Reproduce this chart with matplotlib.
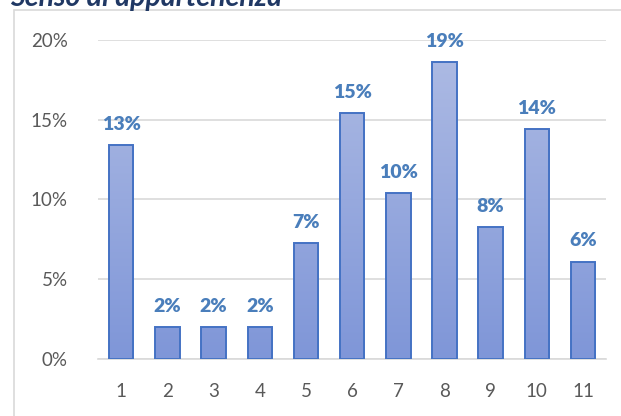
import numpy as np
import matplotlib.pyplot as plt
from matplotlib.patches import Rectangle

categories = ['1', '2', '3', '4', '5', '6', '7', '8', '9', '10', '11']
values = [0.134, 0.020, 0.020, 0.020, 0.0725, 0.154, 0.104, 0.186, 0.0825, 0.144, 0.061]
labels = ['13%', '2%', '2%', '2%', '7%', '15%', '10%', '19%', '8%', '14%', '6%']
yticks = [0, 0.05, 0.10, 0.15, 0.20]
ytick_labels = ['0%', '5%', '10%', '15%', '20%']

plt.rcParams['font.family'] = ['Lato', 'DejaVu Sans']

fig = plt.figure(figsize=(6.21, 4.16), dpi=100)
ax = fig.add_axes([0.158, 0.137, 0.818, 0.767])

# chart frame (cropped at right and bottom)
fig.patches.append(Rectangle((14 / 621, -0.1), 1.2, 1 - 10 / 416 + 0.1,
                             transform=fig.transFigure, fill=False,
                             edgecolor='#D9D9D9', linewidth=1.2))

# title, mostly cut off at the top
fig.text(10 / 621, 1 - 6 / 416, 'Senso di appartenenza', fontsize=20.5,
         fontweight='bold', fontstyle='italic', color='#203864',
         ha='left', va='baseline')

x = np.arange(len(categories))
bars = ax.bar(x, values, width=0.53, color='none', edgecolor='#4472C4',
              linewidth=1.4, zorder=3)

# vertical gradient fill for each bar
grad = np.linspace(0, 1, 256).reshape(-1, 1)
cmap = plt.matplotlib.colors.LinearSegmentedColormap.from_list(
    'g', ['#7F96D8', '#AFBCE4'])
for b in bars:
    bx, by = b.get_x(), b.get_y()
    w, h = b.get_width(), b.get_height()
    im = ax.imshow(grad, extent=[bx, bx + w, 0, 0.2], origin='lower',
                   cmap=cmap, aspect='auto', zorder=2)
    clip = Rectangle((bx, by), w, h, transform=ax.transData)
    im.set_clip_path(clip)

for xi, v, lab in zip(x, values, labels):
    ax.annotate(lab, (xi, v), xytext=(0, 9), textcoords='offset points',
                ha='center', va='bottom', fontsize=14, fontweight='heavy',
                color='#4A7EBB', zorder=4)

ax.set_xlim(-0.5, len(categories) - 0.5)
ax.set_ylim(0, 0.20)
ax.set_xticks(x)
ax.set_xticklabels(categories)
ax.set_yticks(yticks)
ax.set_yticklabels(ytick_labels)
ax.tick_params(length=0, labelsize=13.5, colors='#595959')
ax.tick_params(axis='y', pad=22)
ax.tick_params(axis='x', pad=17)
ax.grid(axis='y', color='#D9D9D9', linewidth=1.2, zorder=0)
for s in ['top', 'right', 'left']:
    ax.spines[s].set_visible(False)
ax.spines['bottom'].set_color('#D9D9D9')
ax.spines['bottom'].set_linewidth(1.2)

fig.savefig('out.png', dpi=100)
